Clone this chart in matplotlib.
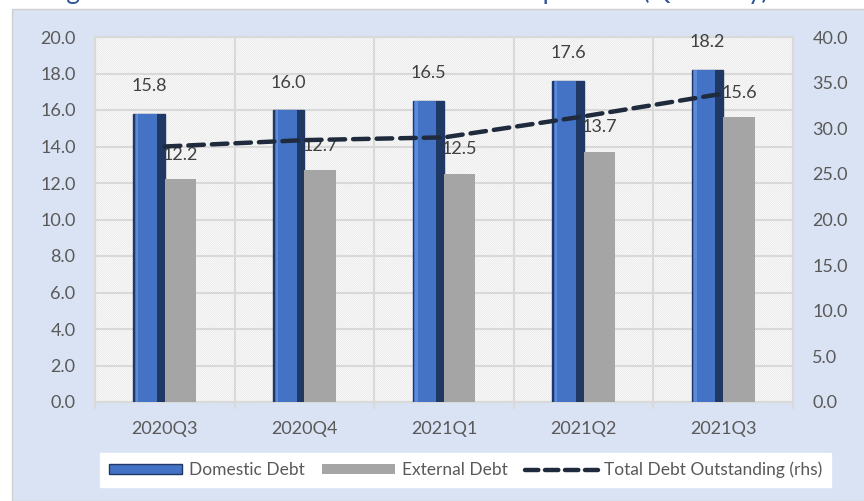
import matplotlib.pyplot as plt
import numpy as np
from matplotlib.patches import Rectangle
from matplotlib.lines import Line2D
from matplotlib.patches import Patch

plt.rcParams['font.family'] = ['Lato', 'DejaVu Sans']
plt.rcParams['hatch.linewidth'] = 0.5

quarters = ['2020Q3', '2020Q4', '2021Q1', '2021Q2', '2021Q3']
domestic = [15.8, 16.0, 16.5, 17.6, 18.2]
external = [12.2, 12.7, 12.5, 13.7, 15.6]
total = [28.0, 28.7, 29.0, 31.3, 33.8]

text_col = '#595959'
grid_col = '#D9D9D9'

fig = plt.figure(figsize=(8.64, 5.01), dpi=100)
fig.patch.set_facecolor('white')
# light blue panel behind the chart
fig.patches.append(Rectangle((12 / 864, 0), 1, 1 - 9 / 501, transform=fig.transFigure,
                             facecolor='#DAE3F3', edgecolor='#D0D0D0', lw=1, zorder=-5))
# title, cut off at top of the image (as in the source)
fig.text(45 / 864, 1 + 1.5 / 501, 'Figure 4: Domestic and External Debt Composition (Quarterly)',
         color='#2F5597', fontsize=19, va='baseline', ha='left')

ax = fig.add_axes([95 / 864, 1 - 402 / 501, 698 / 864, 365 / 501])
ax.set_facecolor('white')
ax.add_patch(Rectangle((0, 0), 1, 1, transform=ax.transAxes, facecolor='white',
                       edgecolor='#E4E4E4', hatch='\\' * 16, lw=0, zorder=0))

x = np.arange(len(quarters))
w = 0.225
off = w / 2

# domestic bars with a rough bevel look
ax.bar(x - off, domestic, w, color='#1F3864', edgecolor='#1F3864', lw=1, zorder=3)
ax.bar(x - off - w * 0.1, domestic, w * 0.7, color='#4472C4', lw=0, zorder=4)
ax.bar(x - off - w * 0.38, domestic, w * 0.08, color='#5B8BDA', lw=0, zorder=4)
ax.bar(x + off, external, w, color='#A5A5A5', lw=0, zorder=3)

ax.set_xlim(-0.5, 4.5)
ax.set_ylim(0, 20)
ax.set_yticks(np.arange(0, 21, 2))
ax.set_yticklabels([f'{v:.1f}' for v in np.arange(0, 21, 2)])
ax.set_xticks(x)
ax.set_xticklabels(quarters)
ax.set_xticks(np.arange(-0.5, 5, 1), minor=True)
ax.grid(True, axis='y', color=grid_col, lw=1.5, zorder=1)
ax.grid(True, axis='x', which='minor', color=grid_col, lw=1.5, zorder=1)
ax.tick_params(axis='both', which='major', length=0, labelsize=13, labelcolor=text_col)
ax.tick_params(axis='x', which='major', pad=14)
ax.tick_params(axis='y', pad=14)
ax.tick_params(axis='x', which='minor', length=5, color=grid_col, width=1.5)
for s in ax.spines.values():
    s.set_color(grid_col)
    s.set_linewidth(1.5)

for xi, v in zip(x, domestic):
    ax.text(xi - off, v + 1.5, f'{v:.1f}', ha='center', va='center', fontsize=13, color='#404040', zorder=6)
for xi, v in zip(x, external):
    ax.text(xi + off, v + 1.35, f'{v:.1f}', ha='center', va='center', fontsize=13, color='#404040', zorder=6)

ax2 = ax.twinx()
ax2.set_ylim(0, 40)
ax2.set_yticks(np.arange(0, 41, 5))
ax2.set_yticklabels([f'{v:.1f}' for v in np.arange(0, 41, 5)])
ax2.tick_params(axis='y', length=0, labelsize=13, labelcolor=text_col, pad=14)
for s in ax2.spines.values():
    s.set_visible(False)
ax2.plot(x, total, color='#1F2A3C', lw=3.2, ls=(0, (3.5, 1.8)), dash_capstyle='round', zorder=5)

handles = [Patch(facecolor='#4472C4', edgecolor='#1F3864'),
           Patch(facecolor='#A5A5A5'),
           Line2D([0], [0], color='#1F2A3C', lw=3.2, ls=(0, (3, 1.5)), dash_capstyle='round')]
labels = ['Domestic Debt', 'External Debt', 'Total Debt Outstanding (rhs)']
leg = fig.legend(handles, labels, loc='center', bbox_to_anchor=(0.539, 0.062), ncol=3,
                 frameon=True, fancybox=False, framealpha=1, fontsize=12.5, handlelength=4.2,
                 handleheight=0.5, columnspacing=1.0, handletextpad=0.4, borderpad=0.5)
leg.get_frame().set_facecolor('white')
leg.get_frame().set_edgecolor('white')
for t in leg.get_texts():
    t.set_color(text_col)

fig.savefig('out.png', dpi=100)
